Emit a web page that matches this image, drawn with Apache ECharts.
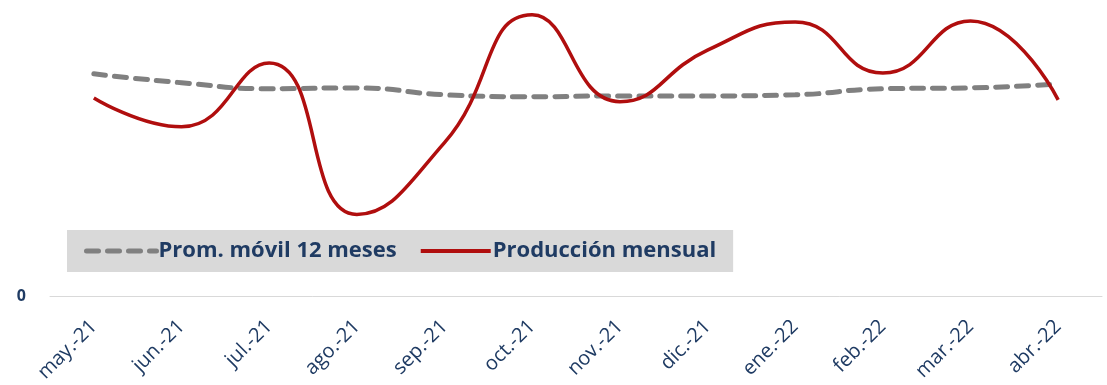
<!DOCTYPE html>
<html>
<head>
<meta charset="utf-8">
<script src="https://cdn.jsdelivr.net/npm/echarts@6/dist/echarts.min.js"></script>
<style>html,body{margin:0;padding:0;background:#fff;}#c{width:1107px;height:385px;}</style>
</head>
<body>
<div id="c"></div>
<script>
const categories = ['may.-21','jun.-21','jul.-21','ago.-21','sep.-21','oct.-21','nov.-21','dic.-21','ene.-22','feb.-22','mar.-22','abr.-22'];
const promMovil = [77.7, 74.6, 72.5, 72.8, 70.4, 69.7, 70.0, 70.0, 70.4, 72.5, 72.8, 74.2];
const produccion = [69.3, 59.2, 81.5, 28.6, 53.7, 98.3, 68.0, 86.0, 95.8, 78.0, 96.2, 68.6];
const yTicks = [0];

const navy = '#1f3b63';
const gray = '#808080';
const red = '#b00e0e';
const chart = echarts.init(document.getElementById('c'));
chart.setOption({
  animation: false,
  grid: { left: 50, right: 5, top: 10, bottom: 88 },
  legend: {
    left: 67, top: 230,
    backgroundColor: '#d9d9d9',
    padding: [10, 17, 10, 17],
    itemWidth: 70, itemHeight: 27, itemGap: 22,
    itemStyle: { opacity: 0 },
    textStyle: { color: navy, fontSize: 22, fontWeight: 'bold', fontFamily: 'Open Sans', padding: [0,0,0,-3] },
    data: [
      { name: 'Prom. móvil 12 meses', lineStyle: { width: 5, type: [12, 9], color: gray } },
      { name: 'Producción mensual', lineStyle: { width: 4, color: red } }
    ]
  },
  xAxis: {
    type: 'category',
    data: categories,
    boundaryGap: true,
    axisLine: { lineStyle: { color: '#d9d9d9', width: 1 } },
    axisTick: { show: false },
    axisLabel: { rotate: 45, color: navy, fontSize: 20, fontFamily: 'Open Sans', margin: 27, interval: 0 }
  },
  yAxis: {
    type: 'value', min: 0, max: 100, interval: 100,
    splitLine: { show: false },
    axisLine: { show: false }, axisTick: { show: false },
    axisLabel: { color: navy, fontSize: 16, fontWeight: 'bold', fontFamily: 'Open Sans', margin: 24,
      formatter: v => yTicks.includes(v) ? String(v) : '' }
  },
  series: [
    { name: 'Prom. móvil 12 meses', type: 'line', data: promMovil, smooth: 0.5, symbol: 'none',
      itemStyle: { color: gray },
      lineStyle: { color: gray, width: 5, type: [12, 9], cap: 'round' } },
    { name: 'Producción mensual', type: 'line', data: produccion, smooth: 0.5, symbol: 'none',
      itemStyle: { color: red },
      lineStyle: { color: red, width: 3.5 } }
  ]
});
</script>
</body>
</html>
